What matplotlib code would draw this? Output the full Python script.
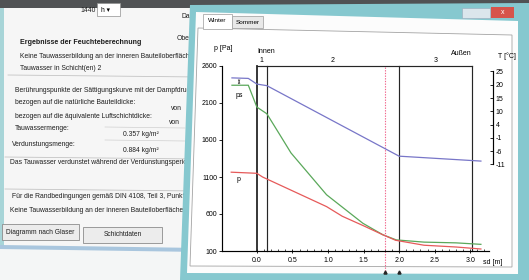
import numpy as np
import matplotlib.pyplot as plt
from matplotlib.patches import Rectangle, Polygon
from matplotlib.ticker import FixedLocator

plt.rcParams['font.family'] = ['Liberation Sans', 'DejaVu Sans']

# layer boundaries along sd [m]
layer_edges = [0.0, 0.14, 2.0, 3.02]
layer_names = ['1', '2', '3']
layer_mid = [0.07, 1.07, 2.51]

# temperature T [°C] (right axis)
t_sd = [-0.35, -0.12, 0.0, 0.14, 2.0, 3.15]
t_val = [22.5, 22.3, 20.1, 19.5, -7.8, -9.7]

# saturation pressure ps [Pa]
ps_sd = [-0.35, -0.12, 0.0, 0.14, 0.33, 0.48, 0.98, 1.49, 1.77, 1.96, 2.35, 2.8, 3.15]
ps_val = [2340, 2340, 2045, 1955, 1660, 1425, 860, 475, 320, 250, 220, 210, 190]

# vapour pressure p [Pa]
p_sd = [-0.36, 0.0, 0.08, 0.98, 1.2, 1.49, 1.77, 1.95, 2.35, 2.8, 3.15]
p_val = [1165, 1150, 1100, 700, 570, 445, 320, 245, 178, 154, 127]

# condensation zone (dotted line + arrows)
cond_sd = [1.8, 2.0]

p_ticks = [100, 600, 1100, 1600, 2100, 2600]
x_ticks = [0.0, 0.5, 1.0, 1.5, 2.0, 2.5, 3.0]
x_ticklabels = ['0.0', '0.5', '1.0', '1.5', '2.0', '2.5', '3.0']
t_ticks = [-11, -5.86, -0.71, 4.43, 9.57, 14.71, 19.86, 25]
t_ticklabels = ['-11', '-6', '-1', '4', '10', '15', '20', '25']

# texts of the left dialog (pixel position, text, bold)
dialog_texts = [
    (80, 10, '1440', False),
    (181, 16, 'Dau', False),
    (20, 43, 'Ergebnisse der Feuchteberechnung', True),
    (177, 39, 'Obe', False),
    (20, 56, 'Keine Tauwasserbildung an der inneren Bauteiloberfläche', False),
    (20, 68, 'Tauwasser in Schicht(en) 2', False),
    (15, 90, 'Berührungspunkte der Sättigungskurve mit der Dampfdruckkurve', False),
    (15, 102, 'bezogen auf die natürliche Bauteildicke:', False),
    (171, 108, 'von', False),
    (15, 117, 'bezogen auf die äquivalente Luftschichtdicke:', False),
    (169, 122, 'von', False),
    (15, 128, 'Tauwassermenge:', False),
    (123, 134, '0.357 kg/m²', False),
    (12, 145, 'Verdunstungsmenge:', False),
    (123, 150, '0.884 kg/m²', False),
    (10, 163, 'Das Tauwasser verdunstet während der Verdunstungsperiode', False),
    (12, 197, 'Für die Randbedingungen gemäß DIN 4108, Teil 3, Punkt 4.3', False),
    (10, 210, 'Keine Tauwasserbildung an der inneren Bauteiloberfläche', False),
]

blue = '#7876c8'
green = '#5aa85a'
red = '#e65a5a'
pink = '#f0668c'
dark = '#262626'

fig = plt.figure(figsize=(5.29, 2.80), dpi=100)

# background "screenshot" in pixel coordinates
bg = fig.add_axes([0, 0, 1, 1], zorder=0)
bg.set_xlim(0, 529)
bg.set_ylim(280, 0)
bg.axis('off')

bg.add_patch(Rectangle((0, 0), 529, 280, fc='#f4f6f6', zorder=0))
bg.add_patch(Rectangle((0, 0), 529, 8, fc='#505254', zorder=1))

# left dialog
bg.add_patch(Polygon([(0, 8), (200, 8), (200, 248), (0, 245)], fc='#f6f6f6', zorder=1))
bg.add_patch(Rectangle((0, 8), 4, 238, fc='#a8d5d8', zorder=1))
bg.add_patch(Polygon([(0, 245), (200, 248), (200, 252), (0, 249)], fc='#a9c6de', zorder=1))
for y0, x0 in [(75, 8), (157, 5), (189, 5)]:
    bg.plot([x0, 200], [y0, y0 + 2], color='#c4c4c4', lw=0.6, zorder=1.5)
for y0 in [127, 140]:
    bg.plot([105, 185], [y0, y0 + 1], color='#d0d0d0', lw=0.5, zorder=1.5)
bg.add_patch(Rectangle((97, 3), 23, 13, fc='white', ec='#909090', lw=0.5, zorder=1.6))
bg.text(101, 10, 'h ▾', fontsize=4.8, va='center', zorder=2)
for x, y, s, bold in dialog_texts:
    bg.text(x, y, s, fontsize=5.1 if bold else 4.9, va='center', ha='left', color='#1e1e1e',
            fontweight='bold' if bold else 'normal', zorder=2)
for (x0, y0, w, h, s) in [(2, 224, 77, 16, 'Diagramm nach Glaser'),
                          (83, 227, 79, 16, 'Schichtdaten')]:
    bg.add_patch(Rectangle((x0, y0), w, h, fc='#ececec', ec='#8c8c8c', lw=0.6, zorder=2))
    bg.text(x0 + w / 2, y0 + h / 2, s, fontsize=4.8, ha='center', va='center',
            color='#1e1e1e', zorder=2.1)

# right window
bg.add_patch(Polygon([(190, 5), (529, 3), (529, 280), (180, 280)], fc='#86c8cf', zorder=3))
bg.add_patch(Polygon([(196, 12), (518, 21), (518, 274), (187, 273)], fc='#fcfcfc', zorder=3.1))
bg.add_patch(Rectangle((462, 8), 28, 10, fc='#dbe6ec', ec='#9ab', lw=0.4, zorder=3.2))
bg.add_patch(Rectangle((491, 7), 23, 11, fc='#d6544a', zorder=3.2))
bg.text(502.5, 12.5, 'x', color='white', fontsize=5, ha='center', va='center', zorder=3.3)
bg.add_patch(Polygon([(198, 28), (512, 35), (512, 267), (190, 266)], fc='white',
                     ec='#a4a4a4', lw=0.6, zorder=3.2))
bg.add_patch(Rectangle((232, 16), 31, 12, fc='#e8e8e8', ec='#9a9a9a', lw=0.5, zorder=3.3))
bg.add_patch(Rectangle((203, 14), 29, 14.5, fc='white', ec='#9a9a9a', lw=0.5, zorder=3.4))
bg.text(217.5, 21, 'Winter', fontsize=4.6, ha='center', va='center', zorder=3.5)
bg.text(247.5, 22.5, 'Sommer', fontsize=4.6, ha='center', va='center', zorder=3.5)

# axis captions
bg.text(223, 48, 'p [Pa]', fontsize=5, ha='center', va='center', zorder=4)
bg.text(507, 56, 'T [°C]', fontsize=5, ha='center', va='center', zorder=4)
bg.text(493, 262, 'sd [m]', fontsize=5, ha='center', va='center', zorder=4)

# Glaser diagram
ax = fig.add_axes([222 / 529, 1 - 251 / 280, 271 / 529, 185 / 280], zorder=2)
ax.patch.set_alpha(0)
ax.set_xlim(-0.49, 3.32)
ax.set_ylim(100, 2600)
ax2 = ax.twinx()
ax2.set_ylim(-44.5, 27.1)

for i, e in enumerate(layer_edges):
    ax.plot([e, e], [100, 2600], color=dark, lw=1.3 if i == 0 else 0.85, clip_on=False)
ax.plot([layer_edges[0], layer_edges[-1]], [2600, 2600], color=dark, lw=0.85, clip_on=False)

ax.plot(ps_sd, ps_val, color=green, lw=0.9)
ax.plot(p_sd, p_val, color=red, lw=0.9)
ax2.plot(t_sd, t_val, color=blue, lw=0.9)

xt = ax.get_xaxis_transform()
ax.plot([cond_sd[0], cond_sd[0]], [-0.11, 1.0], transform=xt, color=pink, lw=0.8,
        ls=(0, (1.2, 1.2)), clip_on=False)
ax.plot(cond_sd, [-0.115, -0.115], transform=xt, ls='none', marker='^', ms=2.2,
        color=dark, clip_on=False)

for name, m in zip(layer_names, layer_mid):
    ax.text(m, 1.032, name, transform=xt, fontsize=5, ha='center', va='center')
ax.text(0.13, 1.081, 'Innen', transform=xt, fontsize=5, ha='center', va='center')
ax.text(2.88, 1.065, 'Außen', transform=xt, fontsize=5, ha='center', va='center')

ax.annotate('', xy=(-0.25, 2430), xytext=(-0.25, 2345),
            arrowprops=dict(arrowstyle='<->', lw=0.5, mutation_scale=3, color=dark))
ax.text(-0.25, 2200, 'ps', fontsize=5, ha='center', va='center')
ax.text(-0.26, 1060, 'p', fontsize=5, ha='center', va='center')

for side in ['top', 'right']:
    ax.spines[side].set_visible(False)
for side in ['top', 'left', 'bottom']:
    ax2.spines[side].set_visible(False)
ax.spines['left'].set_linewidth(0.85)
ax.spines['bottom'].set_linewidth(0.85)
ax.spines['bottom'].set_bounds(-0.49, 3.27)
ax2.spines['right'].set_bounds(t_ticks[0], t_ticks[-1])
ax2.spines['right'].set_linewidth(0.85)

ax.set_yticks(p_ticks)
ax.tick_params(axis='y', direction='out', length=2, width=0.6, labelsize=5, pad=1.5)
ax.set_xticks(x_ticks, x_ticklabels)
ax.xaxis.set_minor_locator(FixedLocator(np.arange(0.0, 3.25, 0.1)))
ax.tick_params(axis='x', which='major', direction='inout', length=3, width=0.6,
               labelsize=5, pad=2.5)
ax.tick_params(axis='x', which='minor', direction='in', length=1.5, width=0.5)
ax2.set_yticks(t_ticks, t_ticklabels)
ax2.tick_params(axis='y', direction='in', length=2, width=0.6, labelsize=5, pad=2)

fig.savefig('out.png', dpi=100)
